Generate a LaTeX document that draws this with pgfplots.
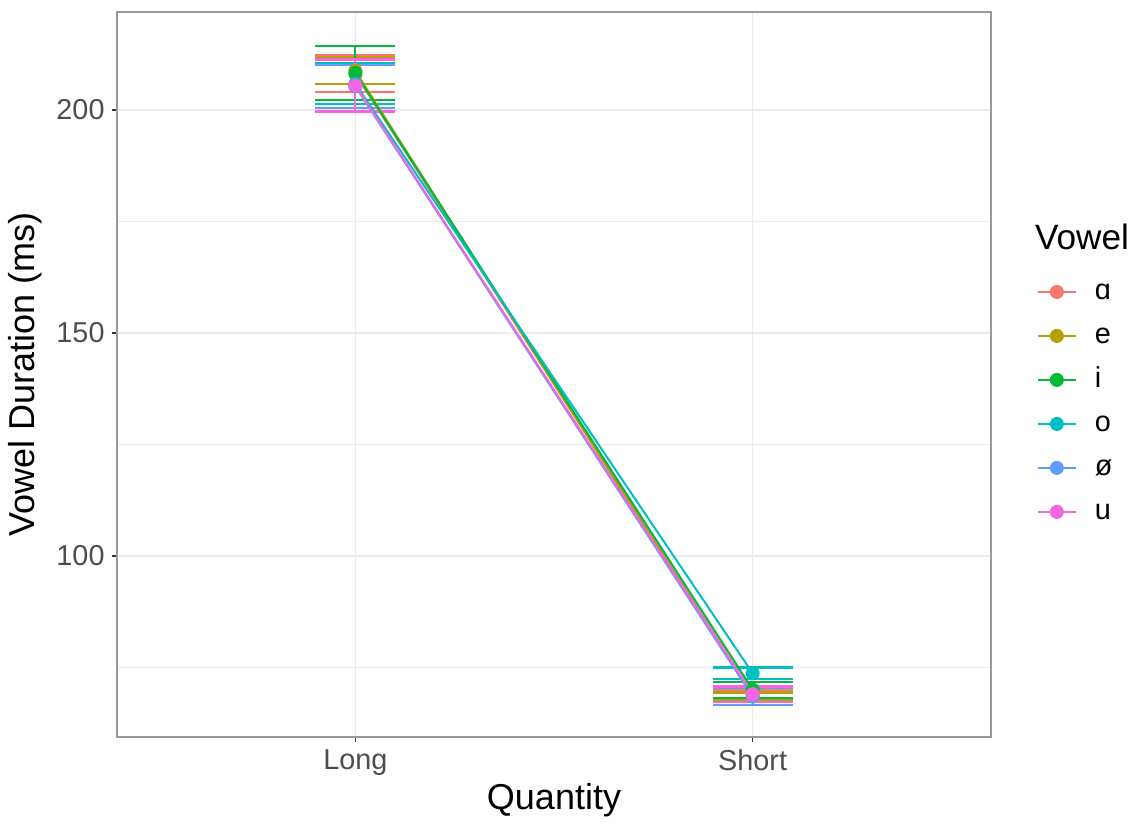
\documentclass[border=0pt]{standalone}
\usepackage{pgfplots}
\pgfplotsset{compat=1.18}
\usepackage{pgfplotstable}
\usepackage{fontspec}
\setmainfont{Liberation Sans}
\definecolor{cA}{HTML}{F8766D}
\definecolor{cE}{HTML}{B79F00}
\definecolor{cI}{HTML}{00BA38}
\definecolor{cO}{HTML}{00BFC4}
\definecolor{cOE}{HTML}{619CFF}
\definecolor{cU}{HTML}{F564E3}
\definecolor{gridc}{HTML}{EBEBEB}
\definecolor{tickc}{HTML}{4D4D4D}
\definecolor{borderc}{HTML}{333333}
\definecolor{panelc}{HTML}{9A9A9A}

% x: 1 = Long, 2 = Short; y = mean duration (ms); e = half error bar
\pgfplotstableread{
x y e
1 208.1 4.1
2 69.0 1.05
}\tA
\pgfplotstableread{
x y e
1 208.8 3.0
2 68.5 0.9
}\tE
\pgfplotstableread{
x y e
1 208.3 6.1
2 70.0 1.8
}\tI
\pgfplotstableread{
x y e
1 205.9 4.6
2 73.7 1.3
}\tO
\pgfplotstableread{
x y e
1 205.3 4.8
2 68.5 1.9
}\tOE
\pgfplotstableread{
x y e
1 205.5 5.85
2 69.0 1.7
}\tU

\pgfplotsset{
  ebar/.style={#1, only marks, mark=none, forget plot,
    error bars/.cd, y dir=both, y explicit,
    error bar style={line width=1.1pt},
    error mark options={rotate=90, mark size=20pt, line width=1.2pt}},
  mline/.style={#1, line width=1pt, mark=*, mark size=3pt},
}

\begin{document}
\begin{tikzpicture}
\begin{axis}[
  scale only axis,
  width=437pt, height=362.5pt,
  xmin=0.4, xmax=2.6, ymin=59.4, ymax=222,
  clip=false,
  axis line style={panelc, line width=1pt},
  xtick={1,2}, xticklabels={Long,Short},
  ytick={100,150,200},
  minor ytick={75,125,175},
  grid=both,
  major grid style={gridc, line width=0.8pt},
  minor grid style={gridc, line width=0.45pt},
  tick align=outside,
  tick pos=left,
  major tick length=2.7pt,
  minor tick length=0pt,
  tick style={borderc, line width=0.8pt},
  /pgf/number format/assume math mode=true,
  ticklabel style={font=\fontsize{14.4}{16}\selectfont, text=tickc},
  xlabel={Quantity}, ylabel={Vowel Duration (ms)},
  label style={font=\fontsize{18}{20}\selectfont},
  xlabel style={at={(axis description cs:0.5,-0.087)}, anchor=center},
  ylabel style={at={(axis description cs:-0.105,0.5)}, anchor=center},
  legend style={draw=none, fill=none, inner sep=0pt,
    at={(axis description cs:1.052,0.631)}, anchor=north west,
    font=\fontsize{14.4}{16}\selectfont, row sep=10pt,
    nodes={inner sep=2pt, text height=8pt, text depth=0pt}},
  legend cell align=left,
  legend image code/.code={
    \draw[#1, mark=none] (0pt,0pt) -- (19pt,0pt);
    \draw[#1, only marks] plot coordinates {(9.5pt,0pt)};
    \path (26pt,0pt);
  },
]
% error bars
\addplot[ebar=cA] table[x=x, y=y, y error=e] {\tA};
\addplot[ebar=cE] table[x=x, y=y, y error=e] {\tE};
\addplot[ebar=cI] table[x=x, y=y, y error=e] {\tI};
\addplot[ebar=cO] table[x=x, y=y, y error=e] {\tO};
\addplot[ebar=cOE] table[x=x, y=y, y error=e] {\tOE};
\addplot[ebar=cU] table[x=x, y=y, y error=e] {\tU};
% lines and points
\addplot[mline=cA] table[x=x, y=y] {\tA};
\addlegendentry{ɑ}
\addplot[mline=cE] table[x=x, y=y] {\tE};
\addlegendentry{e}
\addplot[mline=cI] table[x=x, y=y] {\tI};
\addlegendentry{i}
\addplot[mline=cO] table[x=x, y=y] {\tO};
\addlegendentry{o}
\addplot[mline=cOE] table[x=x, y=y] {\tOE};
\addlegendentry{ø}
\addplot[mline=cU] table[x=x, y=y] {\tU};
\addlegendentry{u}
\node[anchor=west, font=\fontsize{17.6}{20}\selectfont, inner sep=0pt] at (axis description cs:1.050,0.690) {Vowel};
\path (rel axis cs:-0.13387,-0.11034) rectangle (rel axis cs:1.16476,1.01655);
\end{axis}
\end{tikzpicture}
\end{document}
